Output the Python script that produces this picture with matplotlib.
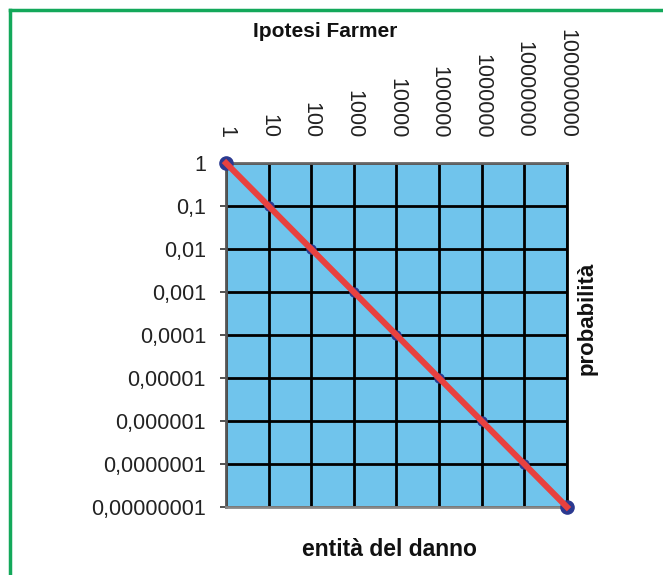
import matplotlib
matplotlib.use("Agg")
import matplotlib.pyplot as plt
from matplotlib.lines import Line2D

plt.rcParams['font.family'] = ['Liberation Sans', 'DejaVu Sans']

danno = [1, 10, 100, 1000, 10000, 100000, 1000000, 10000000, 100000000]
probabilita = [1, 0.1, 0.01, 0.001, 0.0001, 0.00001, 0.000001, 0.0000001, 0.00000001]
x_labels = ["1", "10", "100", "1000", "10000", "100000", "1000000", "10000000", "100000000"]
y_labels = ["1", "0,1", "0,01", "0,001", "0,0001", "0,00001", "0,000001", "0,0000001", "0,00000001"]

fig = plt.figure(figsize=(6.63, 5.75), dpi=100)
ax = fig.add_axes([0.341, 0.1183, 0.514, 0.598])
ax.set_facecolor('#70C4EC')
ax.set_xscale('log')
ax.set_yscale('log')
ax.set_xlim(danno[0], danno[-1])
ax.set_ylim(probabilita[-1], probabilita[0])

ax.grid(True, color='black', linewidth=2, which='major')
ax.set_axisbelow(True)

# blue points: only the end points show clearly, the others hide under the red line
ax.plot([danno[0], danno[-1]], [probabilita[0], probabilita[-1]], linestyle='none',
        marker='o', markersize=9.5, color='#2B3990', zorder=3, clip_on=False)
ax.plot(danno[1:-1], probabilita[1:-1], linestyle='none', marker='o', markersize=6.5,
        color='#2B3990', zorder=3, clip_on=False)
ax.plot(danno, probabilita, color='#E8413F', linewidth=4.4, zorder=4, clip_on=False)

ax.xaxis.tick_top()
ax.set_xticks(danno)
ax.set_xticklabels(x_labels, rotation=270, fontsize=15.5, color='#222222')
ax.set_yticks(probabilita)
ax.set_yticklabels(y_labels, fontsize=15.5, color='#222222')
ax.minorticks_off()
ax.tick_params(axis='x', which='both', length=0, pad=18)
ax.tick_params(axis='y', which='both', length=4.5, width=1.2, pad=10, color='#333333')
for lab in ax.get_xticklabels():
    lab.set_va('bottom')
    lab.set_ha('center')

ax.spines['left'].set_color('#555555')
ax.spines['bottom'].set_color('#888888')
ax.spines['top'].set_color('#666666')
ax.spines['right'].set_color('black')
for s in ax.spines.values():
    s.set_linewidth(2)

fig.text(0.49, 0.945, "Ipotesi Farmer", ha='center', va='center',
         fontsize=15, fontweight='bold', color='#111111')
fig.text(0.588, 0.045, "entità del danno", ha='center', va='center',
         fontsize=16.5, fontweight='bold', color='#111111')
fig.text(0.885, 0.447, "probabilità", ha='center', va='center', rotation=90,
         fontsize=16, fontweight='bold', color='#111111')

green = '#13A85A'
fig.add_artist(Line2D([10/663, 10/663], [0, 1 - 10/575], color=green, linewidth=2.5,
                      transform=fig.transFigure))
fig.add_artist(Line2D([10/663, 1], [1 - 10/575, 1 - 10/575], color=green, linewidth=2.5,
                      transform=fig.transFigure))

fig.savefig("out.png", dpi=100, facecolor='white')
